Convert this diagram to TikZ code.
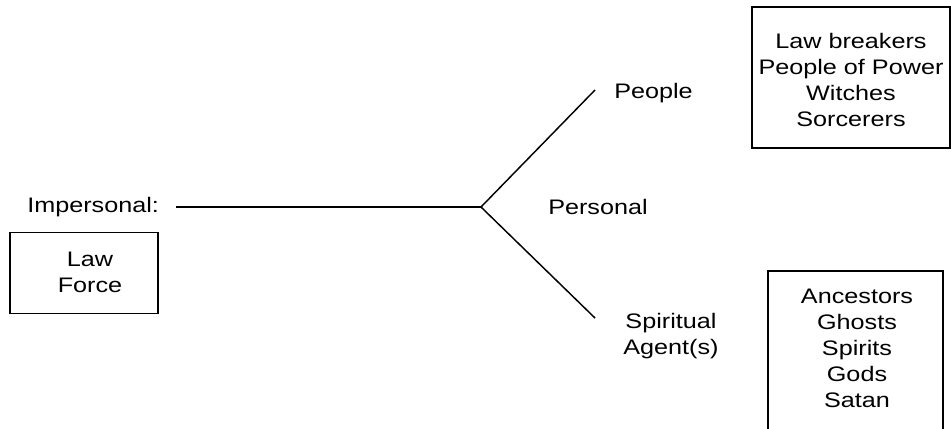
\documentclass[tikz,border=0pt]{standalone}
\usepackage{fontspec}
\setmainfont{Liberation Sans}[FakeStretch=1.2]
\begin{document}
\begin{tikzpicture}[x=0.75pt,y=-0.75pt,
  lbl/.style={inner sep=0pt,font=\fontsize{15.75}{19.5}\selectfont,align=center},
  ln/.style={line width=1.1pt},
  bx/.style={draw,line width=1.1pt}]
\useasboundingbox (0,0) rectangle (951,429);
\clip (0,0) rectangle (951,429);
% impersonal side
\node[lbl,anchor=west] (imp) at (27,207) {Impersonal:};
\node[bx,minimum width=148*0.75pt,minimum height=81*0.75pt,inner sep=0pt] (lawbox) at (84,273) {};
\node[lbl] (law) at (90,272) {Law\\Force};
% lines
\coordinate (start) at (176,207);
\coordinate (fork) at (481,207);
\coordinate (up) at (595,90);
\coordinate (down) at (595,318);
\draw[ln] (start) -- (fork);
\draw[ln] (fork) -- (up);
\draw[ln] (fork) -- (down);
% personal side
\node[lbl,anchor=west] (personal) at (548,207) {Personal};
\node[lbl,anchor=west] (people) at (614,93) {People};
\node[lbl] (spirit) at (671,336) {Spiritual\\Agent(s)};
% boxes
\draw[bx] (752,7) rectangle (950,148);
\node[lbl] (peoplelist) at (851,80) {Law breakers\\People of Power\\Witches\\Sorcerers};
\coordinate (b1) at (768,431);
\coordinate (b2) at (768,271);
\coordinate (b3) at (943,271);
\coordinate (b4) at (943,431);
\draw[bx] (b1) -- (b2) -- (b3) -- (b4);
\node[lbl] (spiritlist) at (857,348) {Ancestors\\Ghosts\\Spirits\\Gods\\Satan};
\end{tikzpicture}
\end{document}
